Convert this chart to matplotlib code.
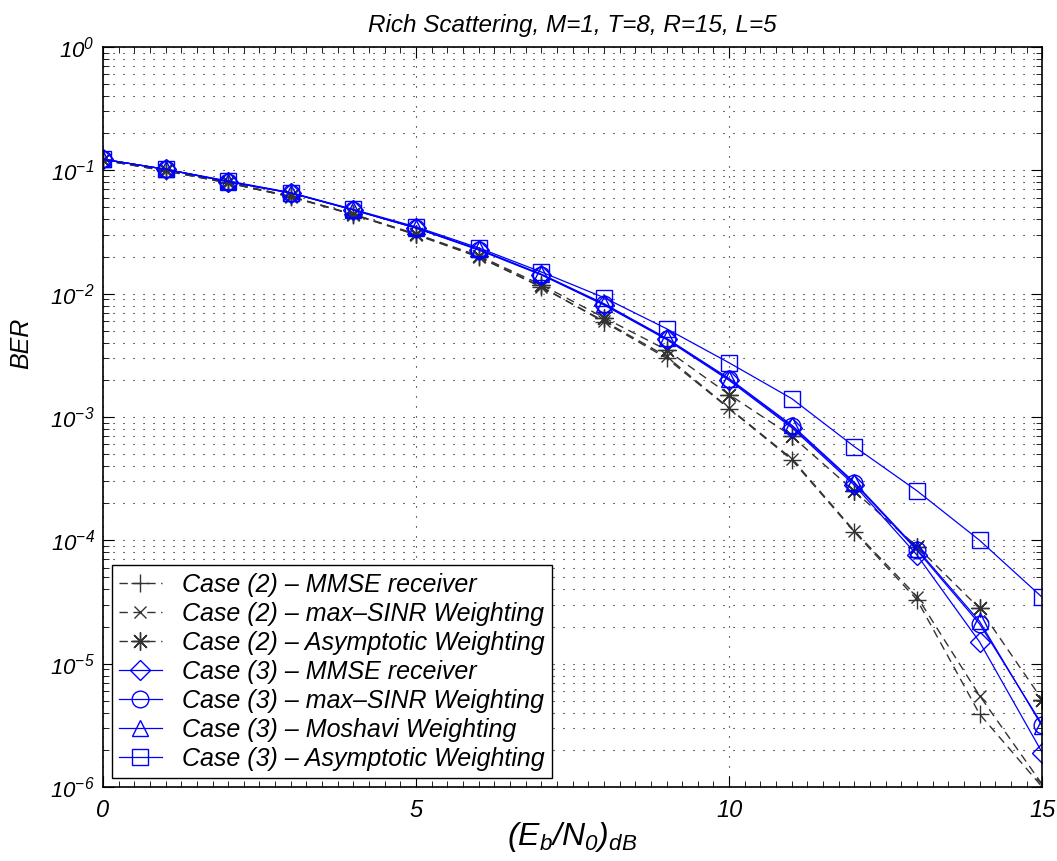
import numpy as np
import matplotlib
matplotlib.use('Agg')
import matplotlib.pyplot as plt
from matplotlib.ticker import FixedLocator, FuncFormatter, NullFormatter

plt.rcParams['font.family'] = ['Liberation Sans', 'DejaVu Sans']
plt.rcParams['font.style'] = 'italic'
plt.rcParams['mathtext.fontset'] = 'custom'
plt.rcParams['mathtext.it'] = 'Liberation Sans:italic'
plt.rcParams['mathtext.rm'] = 'Liberation Sans:italic'
plt.rcParams['mathtext.default'] = 'it'

snr = np.arange(0, 16)

# Case (2), black dashed
c2_mmse = [0.121, 0.099, 0.079, 0.061, 0.0438, 0.0302, 0.0200, 0.0114, 0.0059, 0.0030,
           0.00117, 0.00045, 0.000117, 3.3e-5, 3.9e-6, 1.0e-6]
c2_sinr = [0.121, 0.099, 0.079, 0.061, 0.0437, 0.0300, 0.0198, 0.0113, 0.0060, 0.0031,
           0.00118, 0.00046, 0.000119, 3.5e-5, 5.5e-6, 1.05e-6]
c2_asym = [0.121, 0.100, 0.080, 0.0615, 0.0440, 0.0305, 0.0203, 0.0118, 0.0064, 0.0035,
           0.00152, 0.00070, 0.000250, 8.9e-5, 2.8e-5, 5.1e-6]
# Case (3), blue solid
c3_mmse = [0.123, 0.102, 0.081, 0.0655, 0.0477, 0.0340, 0.0226, 0.0142, 0.0081, 0.00425,
           0.00198, 0.00082, 0.000280, 7.6e-5, 1.5e-5, 1.9e-6]
c3_sinr = [0.123, 0.102, 0.081, 0.0655, 0.0477, 0.0341, 0.0228, 0.0143, 0.0082, 0.00430,
           0.00202, 0.00084, 0.000290, 8.3e-5, 2.1e-5, 3.2e-6]
c3_mosh = [0.123, 0.102, 0.081, 0.0656, 0.0478, 0.0342, 0.0229, 0.0144, 0.0083, 0.00435,
           0.00205, 0.00086, 0.000295, 8.5e-5, 2.2e-5, 3.1e-6]
c3_asym = [0.123, 0.102, 0.082, 0.0660, 0.0482, 0.0348, 0.0235, 0.0150, 0.0093, 0.00520,
           0.00275, 0.00141, 0.000575, 0.000252, 0.000100, 3.45e-5]

labels = ['Case (2) \u2013 MMSE receiver',
          'Case (2) \u2013 max\u2013SINR Weighting',
          'Case (2) \u2013 Asymptotic Weighting',
          'Case (3) \u2013 MMSE receiver',
          'Case (3) \u2013 max\u2013SINR Weighting',
          'Case (3) \u2013 Moshavi Weighting',
          'Case (3) \u2013 Asymptotic Weighting']

x_ticks = [0, 5, 10, 15]
decades = np.arange(-6, 1)

fig = plt.figure(figsize=(10.57, 8.61), dpi=100)
ax = fig.add_axes([0.0974, 0.086, 0.8886, 0.8594])

grey = '0.2'
blue = (0, 0, 1)
dash = (0, (6, 4))
ax.semilogy(snr, c2_mmse, ls=dash, color=grey, lw=1, marker='+', ms=13, mew=1, label=labels[0])
ax.semilogy(snr, c2_sinr, ls=dash, color=grey, lw=1, marker='x', ms=9, mew=1, label=labels[1])
ax.semilogy(snr, c2_asym, ls=dash, color=grey, lw=1, marker=(8, 2, 0), ms=13, mew=1, label=labels[2])
ax.semilogy(snr, c3_mmse, '-', color=blue, lw=0.9, marker='D', ms=10, mfc='none', mew=1, label=labels[3])
ax.semilogy(snr, c3_sinr, '-', color=blue, lw=0.9, marker='o', ms=12, mfc='none', mew=1, label=labels[4])
ax.semilogy(snr, c3_mosh, '-', color=blue, lw=0.9, marker='^', ms=12, mfc='none', mew=1, label=labels[5])
ax.semilogy(snr, c3_asym, '-', color=blue, lw=0.9, marker='s', ms=12, mfc='none', mew=1, label=labels[6])

ax.set_xlim(0, 15)
ax.set_ylim(1e-6, 1)
ax.xaxis.set_major_locator(FixedLocator(x_ticks))
ax.xaxis.set_minor_locator(FixedLocator(np.arange(0, 15.01, 0.25)))
ax.xaxis.set_minor_formatter(NullFormatter())
ax.yaxis.set_major_locator(FixedLocator(10.0 ** decades))
minor_y = [m * 10.0 ** d for d in decades[:-1] for m in range(2, 10)]
ax.yaxis.set_minor_locator(FixedLocator(minor_y))
ax.yaxis.set_minor_formatter(NullFormatter())
ax.yaxis.set_major_formatter(FuncFormatter(lambda v, p: r'$10^{%d}$' % int(round(np.log10(v)))))

gridstyle = dict(ls=(0, (1, 8)), color='k', lw=0.8)
ax.grid(True, which='major', axis='both', **gridstyle)
ax.grid(True, which='minor', axis='y', **gridstyle)
ax.tick_params(which='both', direction='in', top=True, right=True, labelsize=16)
ax.tick_params(axis='x', which='major', labelsize=17, pad=9)
ax.tick_params(which='major', length=8)
ax.tick_params(which='minor', length=4)
ax.tick_params(axis='y', which='major', pad=6)
for s in ax.spines.values():
    s.set_linewidth(1.2)

ax.set_title('Rich Scattering, M=1, T=8, R=15, L=5', fontsize=17.5, pad=11)
ax.set_xlabel(r'$(E_b/N_0)_{dB}$', fontsize=23, labelpad=-2)
ax.set_ylabel('BER', fontsize=18)
ax.yaxis.set_label_coords(-0.074, 0.6)

leg = ax.legend(loc='lower left', fontsize=18, handlelength=1.7, borderaxespad=0.35,
                labelspacing=0.2, fancybox=False, framealpha=1, edgecolor='k',
                borderpad=0.3, handletextpad=0.8)
leg.get_frame().set_linewidth(1)

fig.savefig('out.png', dpi=100)
